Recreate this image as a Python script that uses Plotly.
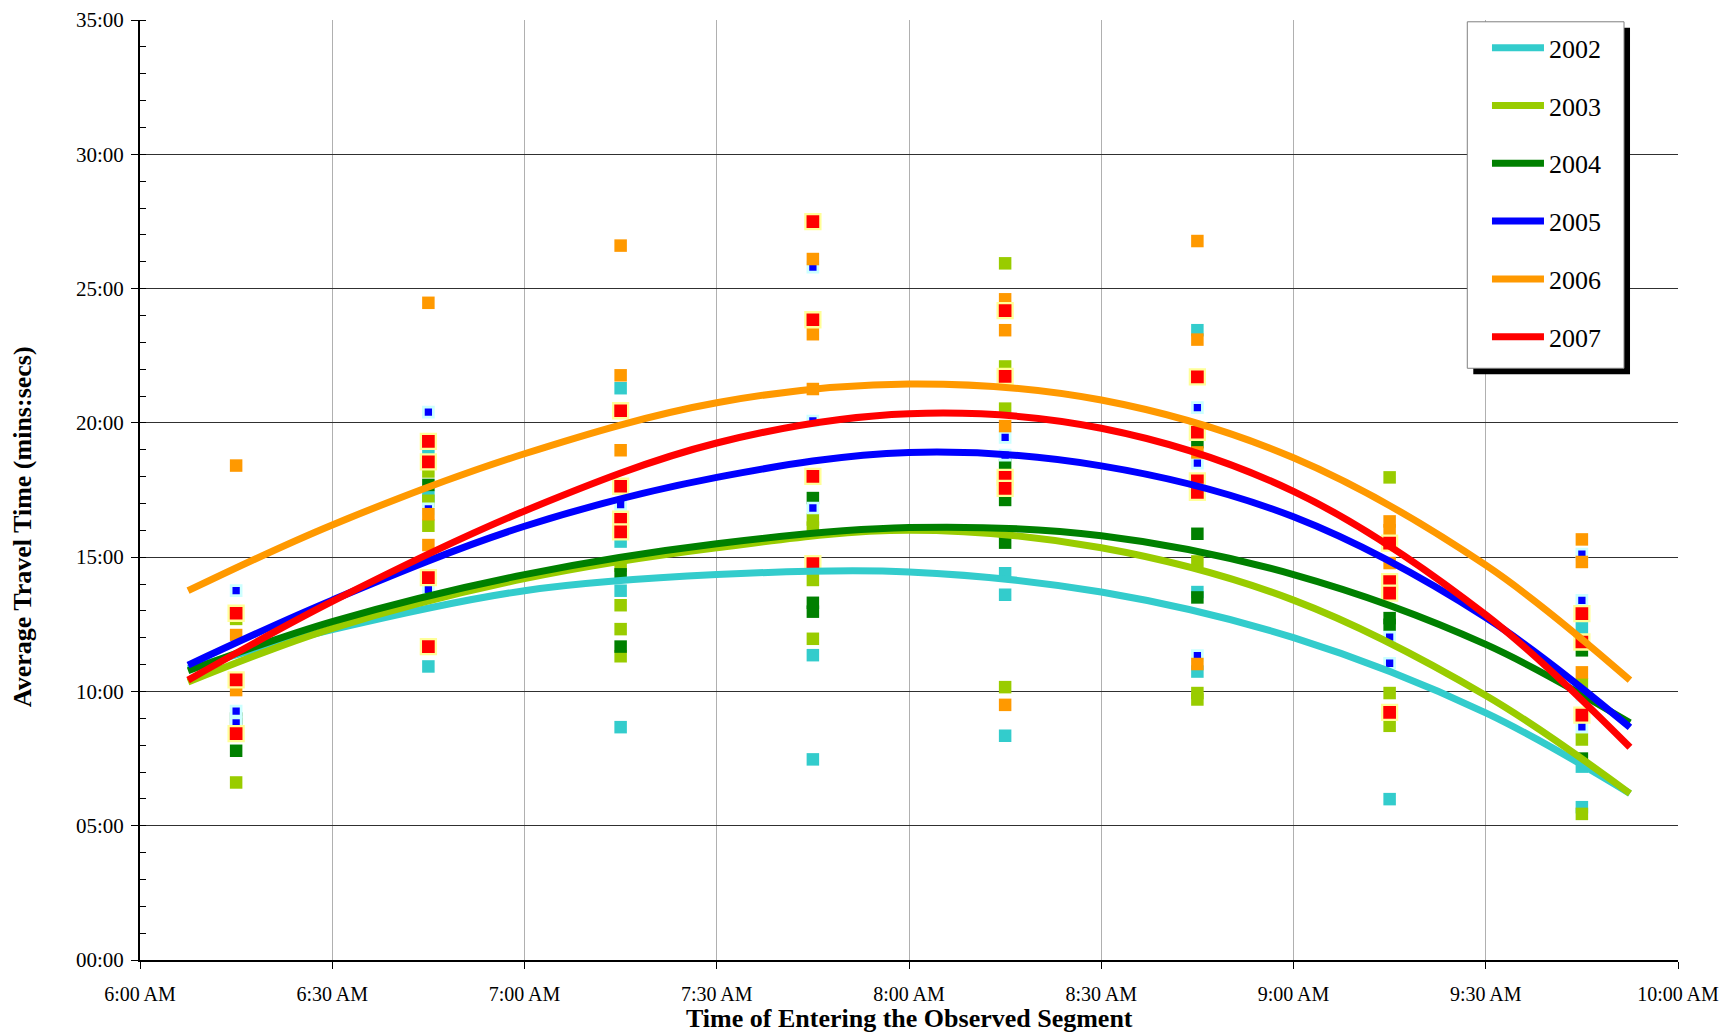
import plotly.graph_objects as go

# ---------------- data ----------------
years = ["2002", "2003", "2004", "2005", "2006", "2007"]
colors = ["#33CCCC", "#99CC00", "#008000", "#0000FF", "#FF9900", "#FF0000"]

slot_times = ["06:15", "06:45", "07:15", "07:45", "08:15", "08:45", "09:15", "09:45"]

# observed average travel times (minutes), one list per time slot
obs_2002 = [[], [18.92, 17.24, 10.93], [21.29, 15.58, 13.75, 8.67], [11.35, 7.47],
            [14.4, 13.6, 8.35], [23.45, 13.7, 10.74], [5.99], [12.36, 7.2, 5.69]]
obs_2003 = [[12.7, 6.61], [18.19, 17.1, 16.17], [14.68, 13.21, 12.32, 11.31],
            [16.4, 16.1, 14.15, 11.96], [25.94, 22.1, 20.53, 10.16], [14.84, 9.94, 9.7],
            [17.97, 9.94, 8.72], [10.27, 8.21, 5.44]]
obs_2004 = [[8.99, 7.79], [17.69], [14.36, 11.67], [17.2, 13.3, 12.97],
            [18.43, 17.13, 15.54], [19.28, 15.87, 13.5], [12.73, 12.48], [11.53, 7.5]]
obs_2005 = [[13.75, 9.27, 8.83], [20.4, 16.8, 13.8], [16.96], [25.8, 20.07, 16.83],
            [19.46, 18.8], [20.57, 18.5, 11.33], [12.02, 11.05], [15.11, 13.39, 9.86, 8.68]]
obs_2006 = [[18.41, 12.1, 10.05], [24.47, 16.6, 15.45], [26.6, 21.77, 18.98],
            [26.1, 23.3, 21.26], [24.6, 23.45, 19.88, 9.5], [26.77, 23.1, 18.9, 11.02],
            [16.33, 16.0, 14.78], [15.66, 14.82, 10.71]]
obs_2007 = [[12.91, 10.43, 8.43], [19.31, 18.55, 14.24, 11.67], [20.45, 17.64, 16.41, 15.94],
            [27.49, 23.84, 18.01, 14.76], [24.18, 21.73, 17.97, 17.56],
            [21.71, 19.65, 17.84, 17.41], [15.52, 14.09, 13.66, 9.22], [12.9, 11.84, 9.12]]

# trend curves (minutes)
trend_times = ["06:07:30", "06:30", "07:00", "07:30", "08:00", "08:30", "09:00", "09:30", "09:52:30"]
trend_2002 = [10.85, 12.3, 13.75, 14.35, 14.45, 13.7, 12.0, 9.2, 6.2]
trend_2003 = [10.35, 12.35, 14.2, 15.35, 16.0, 15.35, 13.4, 9.85, 6.2]
trend_2004 = [10.77, 12.6, 14.35, 15.5, 16.1, 15.8, 14.35, 11.75, 8.83]
trend_2005 = [10.98, 13.4, 16.15, 17.97, 18.9, 18.4, 16.5, 12.75, 8.66]
trend_2006 = [13.75, 16.2, 18.85, 20.75, 21.45, 20.85, 18.7, 14.7, 10.42]
trend_2007 = [10.42, 13.35, 16.72, 19.25, 20.34, 19.8, 17.45, 12.85, 7.92]

y_tick_vals = [0, 5, 10, 15, 20, 25, 30, 35]
y_tick_text = ["00:00", "05:00", "10:00", "15:00", "20:00", "25:00", "30:00", "35:00"]

# ---------------- figure ----------------
DAY = "2000-01-01 "
FONT = "Liberation Serif, Times New Roman, serif"

obs_all = [obs_2002, obs_2003, obs_2004, obs_2005, obs_2006, obs_2007]
trend_all = [trend_2002, trend_2003, trend_2004, trend_2005, trend_2006, trend_2007]

fig = go.Figure()

for yr, col, obs in zip(years, colors, obs_all):
    xs, ys = [], []
    for t, vals in zip(slot_times, obs):
        for v in vals:
            xs.append(DAY + t)
            ys.append(v)
    if yr == "2005":
        marker = dict(symbol="square", size=10, color=col, line=dict(color="#CCFFFF", width=2.7))
    elif yr == "2007":
        marker = dict(symbol="square", size=15, color=col, line=dict(color="#FFFF99", width=2.3))
    else:
        marker = dict(symbol="square", size=12.5, color=col, line=dict(width=0))
    fig.add_trace(go.Scatter(x=xs, y=ys, mode="markers", marker=marker,
                             showlegend=False, name=yr, hoverinfo="skip"))

for yr, col, tr in zip(years, colors, trend_all):
    fig.add_trace(go.Scatter(x=[DAY + t for t in trend_times], y=tr, mode="lines",
                             line=dict(color=col, width=7, shape="spline", smoothing=1.0),
                             name=yr, legendgroup=yr))

# legend box with shadow (drawn as shapes)
fig.add_shape(type="rect", xref="paper", yref="paper", x0=0.8669, x1=0.9688, y0=0.6231, y1=0.9918,
              fillcolor="black", line=dict(width=0), layer="above")
fig.add_shape(type="rect", xref="paper", yref="paper", x0=0.8630, x1=0.9649, y0=0.6295, y1=0.9981,
              fillcolor="white", line=dict(color="#808080", width=1), layer="above")

fig.update_layout(
    width=1724, height=1035,
    margin=dict(l=140, r=46, t=20, b=75),
    paper_bgcolor="white", plot_bgcolor="white",
    font=dict(family=FONT, size=20, color="black"),
    showlegend=True,
    legend=dict(x=0.8758, y=0.9954, xanchor="left", yanchor="top",
                bgcolor="rgba(0,0,0,0)", borderwidth=0,
                font=dict(family=FONT, size=26, color="black"),
                tracegroupgap=21, itemwidth=52),
    xaxis=dict(type="date", range=[DAY + "06:00", DAY + "10:00"], dtick=1800000,
               tick0=DAY + "06:00", tickformat="%-I:%M %p", automargin=False,
               showgrid=True, gridcolor="#B0B0B0", gridwidth=1,
               showline=True, linecolor="black", linewidth=2,
               ticks="outside", ticklen=7, tickcolor="black", ticklabelstandoff=8,
               tickfont=dict(family=FONT, size=20), zeroline=False),
    yaxis=dict(range=[0, 35], tickmode="array", tickvals=y_tick_vals, ticktext=y_tick_text,
               automargin=False,
               showgrid=True, gridcolor="#303030", gridwidth=1,
               showline=True, linecolor="black", linewidth=2,
               ticks="outside", ticklen=7, tickcolor="black", ticklabelstandoff=3,
               minor=dict(tickmode="linear", tick0=0, dtick=1, ticks="inside", ticklen=6,
                          tickcolor="black", showgrid=False),
               tickfont=dict(family=FONT, size=21), zeroline=False),
    annotations=[
        dict(text="<b>Average Travel Time (mins:secs)</b>", xref="paper", yref="paper",
             x=-0.0767, y=0.4605, xanchor="center", yanchor="middle", textangle=-90,
             showarrow=False, font=dict(family=FONT, size=26, color="black")),
        dict(text="<b>Time of Entering the Observed Segment</b>", xref="paper", yref="paper",
             x=0.5, y=-0.0625, xanchor="center", yanchor="middle",
             showarrow=False, font=dict(family=FONT, size=26, color="black")),
    ],
)

fig.write_html("out.html", config={"displayModeBar": False},
               post_script="document.body.style.margin='0';document.body.style.overflow='hidden';")
